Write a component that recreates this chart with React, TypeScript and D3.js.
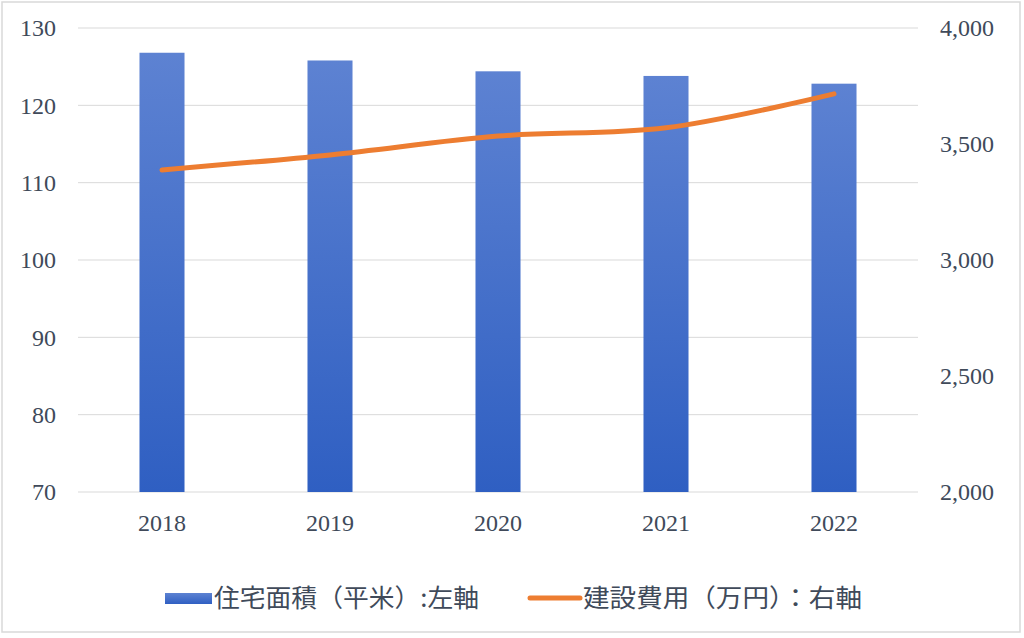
import React from "react";
import * as d3 from "d3";

const years = ["2018", "2019", "2020", "2021", "2022"];
const areaValues = [126.8, 125.8, 124.4, 123.8, 122.8];
const costValues = [3388, 3453, 3534, 3570, 3716];
const leftTicks = [70, 80, 90, 100, 110, 120, 130];
const rightTicks = [2000, 2500, 3000, 3500, 4000];
const legendLabels = ["住宅面積（平米）:左軸", "建設費用（万円）：右軸"];

const W = 1024;
const H = 638;
const plot = { left: 78, right: 918, top: 28, bottom: 492 };

export default function App() {
  const x = d3.scaleBand<string>().domain(years).range([plot.left, plot.right]).paddingInner(0.732).paddingOuter(0.366);
  const xc = (d: string) => (x(d) as number) + x.bandwidth() / 2;
  const yL = d3.scaleLinear().domain([70, 130]).range([plot.bottom, plot.top]);
  const yR = d3.scaleLinear().domain([2000, 4000]).range([plot.bottom, plot.top]);
  const line = d3
    .line<number>()
    .x((_, i) => xc(years[i]))
    .y((d) => yR(d))
    .curve(d3.curveCatmullRom.alpha(0.5));
  const fmt = d3.format(",");
  const textColor = "#404a5a";
  const serif = "'Liberation Serif', 'Times New Roman', serif";
  const cjk = "'Noto Sans CJK JP', 'Noto Sans', sans-serif";

  return (
    <svg width={W} height={H} style={{ position: "absolute", left: 0, top: 0, background: "#fff" }}>
      <defs>
        <linearGradient id="barGrad" x1="0" y1="0" x2="0" y2="1">
          <stop offset="0" stopColor="#5d82d2" />
          <stop offset="1" stopColor="#2f5fc2" />
        </linearGradient>
        <linearGradient id="legGrad" x1="0" y1="0" x2="0" y2="1">
          <stop offset="0" stopColor="#5d82d2" />
          <stop offset="1" stopColor="#2f5fc2" />
        </linearGradient>
      </defs>
      <rect x={2} y={2} width={1018} height={630} fill="#fff" stroke="#d9d9d9" strokeWidth={1.5} />
      {leftTicks.map((t) => (
        <line key={"g" + t} x1={plot.left} x2={plot.right} y1={yL(t)} y2={yL(t)} stroke="#d9d9d9" strokeWidth={1} />
      ))}
      {years.map((yr, i) => (
        <rect
          key={yr}
          x={x(yr)}
          y={yL(areaValues[i])}
          width={x.bandwidth()}
          height={yL(70) - yL(areaValues[i])}
          fill="url(#barGrad)"
        />
      ))}
      <path d={line(costValues) || ""} fill="none" stroke="#ed7d31" strokeWidth={5} strokeLinecap="round" strokeLinejoin="round" />
      {leftTicks.map((t) => (
        <text key={"l" + t} x={56} y={yL(t)} dy="0.35em" textAnchor="end" fontFamily={serif} fontSize={24} fill={textColor}>
          {t}
        </text>
      ))}
      {rightTicks.map((t) => (
        <text key={"r" + t} x={940} y={yR(t)} dy="0.35em" textAnchor="start" fontFamily={serif} fontSize={24} fill={textColor}>
          {fmt(t)}
        </text>
      ))}
      {years.map((yr) => (
        <text key={"x" + yr} x={xc(yr)} y={531} textAnchor="middle" fontFamily={serif} fontSize={24} fill={textColor}>
          {yr}
        </text>
      ))}
      <rect x={165} y={593} width={47} height={11} fill="url(#legGrad)" />
      <text x={214} y={607} fontFamily={cjk} fontSize={25} fill={textColor} textLength={265} lengthAdjust="spacingAndGlyphs">
        {legendLabels[0]}
      </text>
      <line x1={530} x2={580} y1={598} y2={598} stroke="#ed7d31" strokeWidth={5} strokeLinecap="round" />
      <text x={583} y={607} fontFamily={cjk} fontSize={25} fill={textColor} textLength={279} lengthAdjust="spacingAndGlyphs">
        {legendLabels[1]}
      </text>
    </svg>
  );
}
